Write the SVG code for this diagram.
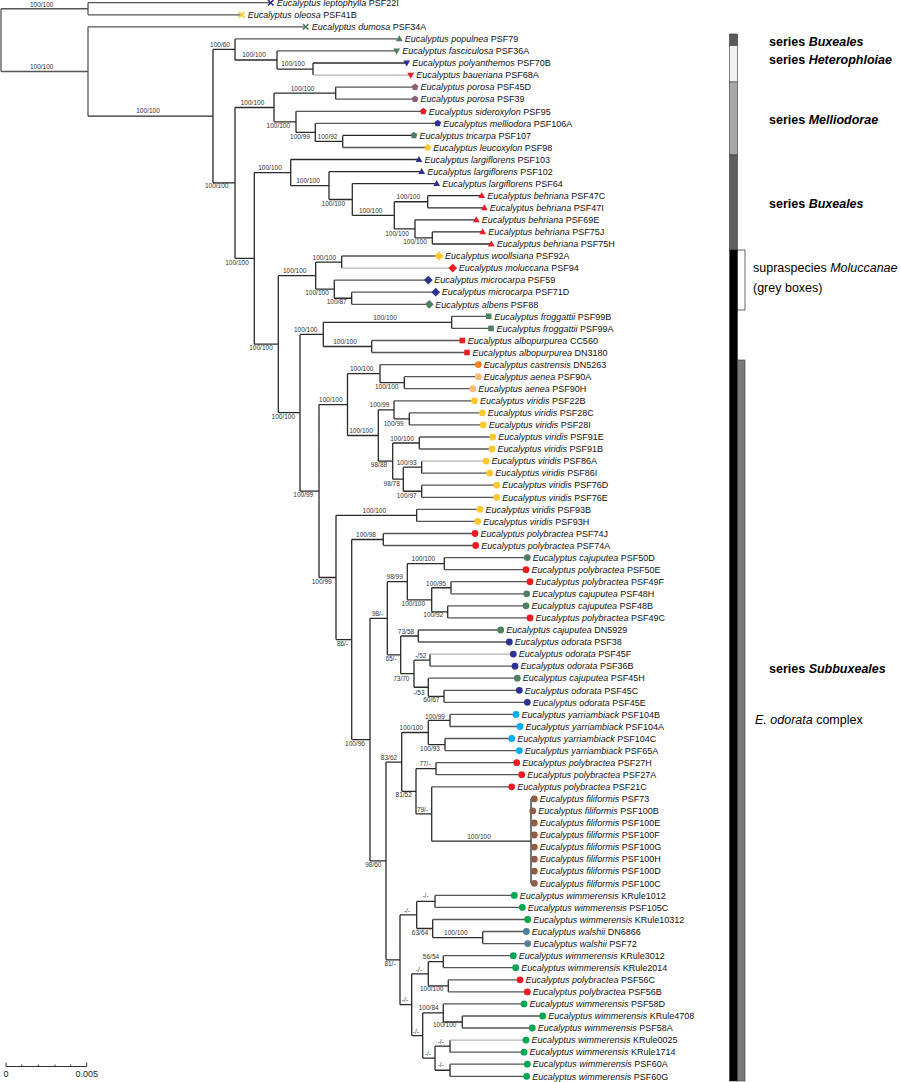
<svg xmlns="http://www.w3.org/2000/svg" width="901" height="1082" viewBox="0 0 901 1082">
<style>
.lf{font-family:"Liberation Sans",Arial,sans-serif;font-size:9px;fill:#111}
.i{font-style:italic}
.sp{font-family:"Liberation Sans",Arial,sans-serif;font-size:6.5px;fill:#333;text-anchor:middle}
.lg{font-family:"Liberation Sans",Arial,sans-serif;font-size:12.5px;fill:#000}
.b{font-weight:bold}
.t{stroke:#555}
.lt{stroke:#b4b4b4}
.sc{font-family:"Liberation Sans",Arial,sans-serif;font-size:9px;fill:#222;text-anchor:middle}
</style>
<defs>
<path id="xc" d="M-2.8,-2.8L2.8,2.8M-2.8,2.8L2.8,-2.8" fill="none" stroke-width="1.6"/>
<path id="tu" d="M0,-3.6L3.4,2.4L-3.4,2.4Z"/>
<path id="td" d="M0,3.6L3.4,-2.4L-3.4,-2.4Z"/>
<path id="pg" d="M0,-3.6L3.4,-1.1L2.1,2.9L-2.1,2.9L-3.4,-1.1Z"/>
<path id="dm" d="M0,-4.4L4.4,0L0,4.4L-4.4,0Z"/>
<rect id="sq" x="-2.8" y="-2.8" width="5.6" height="5.6"/>
<circle id="ci" r="3.4"/>
</defs>
<rect width="901" height="1082" fill="#fff"/>
<g id="connectors" fill="none" stroke="#2a2a2a" stroke-width="1.3">
<path class="t" d="M1,8.75V71.5M1,8.75H88M88,2.7V14.8M1,71.5H88M88,26.8V116.2"/>
<path class="t" d="M88,2.7H270.7M88,14.8H241.7M88,26.8H305.7"/>
<path d="M88,116.2H213M213,49.44V182.95M213,49.44H235M235,38.9V59.98"/>
<path class="t" d="M235,38.9H399.3"/>
<path d="M235,59.98H277M277,50.9V69.05M277,69.05H313M313,63V75.1"/>
<path class="t" d="M277,50.9H396.7"/>
<path d="M313,63H406.7"/>
<path class="lt" d="M313,75.1H410.7"/>
<path d="M213,182.95H235M235,107.5V258.4M235,107.5H274M274,93.15V121.85M274,93.15H335.7M335.7,87.1V99.2"/>
<path class="t" d="M335.7,87.1H415M335.7,99.2H415"/>
<path d="M274,121.85H296M296,111.3V132.4M296,132.4H315.3M315.3,123.3V141.45M315.3,141.45H342.7M342.7,135.4V147.5"/>
<path class="t" d="M296,111.3H423.3M315.3,123.3H437.7M342.7,147.5H427.7"/>
<path d="M342.7,135.4H414"/>
<path d="M235,258.4H254.3M254.3,172.6V344.2M254.3,172.6H290.7M290.7,159.5V185.6M290.7,185.6H329M329,171.6V199.5M329,199.5H352.3M352.3,183.6V215.3M352.3,215.3H394.3M394.3,201.75V228.9M394.3,201.75H427.7M427.7,195.7V207.8M394.3,228.9H415M415,219.8V237.95M415,237.95H432.3M432.3,231.9V244"/>
<path d="M290.7,159.5H419M329,171.6H421.7M352.3,183.6H436.7M427.7,195.7H481.7M427.7,207.8H484.3M415,219.8H476.3M432.3,231.9H482.7M432.3,244H491.3"/>
<path d="M254.3,344.2H278.3M278.3,275.7V412.7M278.3,275.7H315.7M315.7,262.05V289.2M315.7,262.05H341.7M341.7,256V268.1M315.7,289.2H334.3M334.3,280.1V298.25M334.3,298.25H351.7M351.7,292.2V304.3"/>
<path class="t" d="M341.7,256H439M334.3,280.1H428.3M351.7,292.2H435.7M351.7,304.3H429.3"/>
<path class="lt" d="M341.7,268.1H452.7"/>
<path d="M278.3,412.7H300M300,334.4V491.05M300,334.4H323.3M323.3,322.35V346.5M323.3,322.35H451.7M451.7,316.3V328.4M323.3,346.5H371.7M371.7,340.5V352.5"/>
<path class="t" d="M451.7,316.3H488.7M451.7,328.4H491M371.7,340.5H462.3M371.7,352.5H467"/>
<path d="M300,491.05H319M319,404.6V577.5M319,404.6H347.5M347.5,373.65V435.5M347.5,373.65H380M380,364.6V382.7M380,382.7H404.3M404.3,376.7V388.7M347.5,435.5H378.3M378.3,409.85V461.1M378.3,409.85H394M394,400.8V418.85M394,418.85H409.3M409.3,412.8V424.9M378.3,461.1H392.7M392.7,443V479.2M392.7,443H419.3M419.3,437V449M392.7,479.2H403.3M403.3,467.15V491.25M403.3,467.15H421.7M421.7,461.1V473.2M403.3,491.25H421.7M421.7,485.2V497.3"/>
<path class="t" d="M380,364.6H478.3M404.3,376.7H478.3M404.3,388.7H472.7M394,400.8H474.5M409.3,412.8H482.3M409.3,424.9H483.3M419.3,437H492.7M419.3,449H492M421.7,473.2H489.7M421.7,485.2H496.7M421.7,497.3H496.7"/>
<path class="lt" d="M421.7,461.1H486"/>
<path d="M319,577.5H336M336,515.35V639.55M336,515.35H416.7M416.7,509.3V521.4M336,639.55H351.7M351.7,539.5V739.6M351.7,539.5H383.3M383.3,533.5V545.5"/>
<path class="t" d="M416.7,509.3H480M416.7,521.4H477.7M383.3,533.5H475M383.3,545.5H475.7"/>
<path d="M351.7,739.6H370M370,618.3V860.95M370,618.3H387.3M387.3,581.7V654.85M387.3,581.7H407.3M407.3,563.65V599.8M407.3,563.65H444.3M444.3,557.6V569.7M407.3,599.8H431.7M431.7,587.75V611.85M431.7,587.75H451M451,581.7V593.8M431.7,611.85H447.7M447.7,605.8V617.9"/>
<path class="t" d="M444.3,557.6H527.3M444.3,569.7H526M451,581.7H530M451,593.8H526.7M447.7,605.8H526M447.7,617.9H530"/>
<path d="M387.3,654.85H400.7M400.7,636V673.7M400.7,636H418.3M418.3,630V642M400.7,673.7H414M414,660.15V687.25M414,660.15H430M430,654.1V666.2M414,687.25H428.3M428.3,678.2V696.3M428.3,696.3H444M444,690.3V702.3"/>
<path class="t" d="M418.3,630H500.7M418.3,642H509.3M430,666.2H515M428.3,678.2H517.3M444,690.3H519.3M444,702.3H527.3"/>
<path class="lt" d="M430,654.1H513.3"/>
<path d="M370,860.95H386M386,762.1V959.8M386,762.1H401.7M401.7,732.5V791.3M401.7,732.5H428.3M428.3,720.45V744.55M428.3,720.45H450M450,714.4V726.5M428.3,744.55H445M445,738.5V750.6"/>
<path class="t" d="M450,714.4H516M450,726.5H520M445,738.5H511.7M445,750.6H519.3"/>
<path d="M401.7,791.3H416M416,768.7V813.95M416,768.7H436M436,762.7V774.7M416,813.95H431.7M431.7,786.8V841.1M431.7,841.1H531M531,798.9V883.3"/>
<path class="t" d="M436,762.7H516.7M436,774.7H521.7M431.7,786.8H511.7M531,798.9H534.3M531,810.9H532.7M531,823H534.3M531,835H534.3M531,847.1H534.3M531,859.2H534.3M531,871.2H534.3M531,883.3H534.3"/>
<path d="M386,959.8H400M400,914.95V1004.7M400,914.95H416.7M416.7,901.4V928.5M416.7,901.4H435M435,895.4V907.4M416.7,928.5H432.7M432.7,919.5V937.55M432.7,937.55H482.7M482.7,931.5V943.6"/>
<path class="t" d="M435,895.4H514.3M435,907.4H522.3M432.7,919.5H527.7M482.7,931.5H526.3M482.7,943.6H527.7"/>
<path d="M400,1004.7H411.7M411.7,973.8V1035.6M411.7,973.8H428.3M428.3,961.7V985.85M428.3,961.7H443.3M443.3,955.7V967.7M428.3,985.85H448.3M448.3,979.8V991.9M411.7,1035.6H422.7M422.7,1012.95V1058.2M422.7,1012.95H443.3M443.3,1003.9V1022M443.3,1022H462.3M462.3,1016V1028M422.7,1058.2H435M435,1046.15V1070.25M435,1046.15H450M450,1040.1V1052.2M435,1070.25H450M450,1064.2V1076.3"/>
<path class="t" d="M443.3,955.7H513.3M443.3,967.7H515.7M448.3,979.8H520M448.3,991.9H527.3M443.3,1003.9H524M462.3,1016H542.7M462.3,1028H532.3M450,1052.2H524M450,1064.2H527.3M450,1076.3H526.7"/>
<path class="lt" d="M450,1040.1H526"/>
</g>
<g id="supports">
<text class="sp" x="41.7" y="6.6">100/100</text>
<text class="sp" x="41.7" y="68.6">100/100</text>
<text class="sp" x="148" y="113.3">100/100</text>
<text class="sp" x="220" y="46.6">100/60</text>
<text class="sp" x="254" y="57.3">100/100</text>
<text class="sp" x="293" y="65.6">100/100</text>
<text class="sp" x="216.7" y="188.3">100/100</text>
<text class="sp" x="252.5" y="104.6">100/100</text>
<text class="sp" x="302.5" y="91.3">100/100</text>
<text class="sp" x="278.3" y="128">100/100</text>
<text class="sp" x="300" y="139">100/99</text>
<text class="sp" x="327.5" y="139">100/92</text>
<text class="sp" x="270" y="170">100/100</text>
<text class="sp" x="308" y="183">100/100</text>
<text class="sp" x="333.3" y="205.6">100/100</text>
<text class="sp" x="370.7" y="212.6">100/100</text>
<text class="sp" x="408.3" y="199">100/100</text>
<text class="sp" x="397" y="235.6">100/100</text>
<text class="sp" x="415" y="244">100/100</text>
<text class="sp" x="237" y="264.6">100/100</text>
<text class="sp" x="294.7" y="273.3">100/100</text>
<text class="sp" x="324.3" y="259.6">100/100</text>
<text class="sp" x="317" y="295.3">100/100</text>
<text class="sp" x="336.7" y="304">100/87</text>
<text class="sp" x="261" y="349.6">100/100</text>
<text class="sp" x="305.7" y="331.6">100/100</text>
<text class="sp" x="385" y="320">100/100</text>
<text class="sp" x="345" y="343.6">100/100</text>
<text class="sp" x="361.7" y="371.3">100/100</text>
<text class="sp" x="386.7" y="389">100/100</text>
<text class="sp" x="330.8" y="402.3">100/100</text>
<text class="sp" x="283.3" y="419">100/100</text>
<text class="sp" x="379.5" y="407.3">100/99</text>
<text class="sp" x="393.7" y="425.6">100/99</text>
<text class="sp" x="361" y="433">100/100</text>
<text class="sp" x="402" y="440.6">100/100</text>
<text class="sp" x="379" y="467.3">98/88</text>
<text class="sp" x="406.7" y="464.6">100/93</text>
<text class="sp" x="391.7" y="485.6">98/78</text>
<text class="sp" x="406.7" y="498">100/97</text>
<text class="sp" x="303.3" y="496.6">100/99</text>
<text class="sp" x="374.3" y="513.3">100/100</text>
<text class="sp" x="366" y="537.3">100/98</text>
<text class="sp" x="423.3" y="560.6">100/100</text>
<text class="sp" x="394.7" y="579">98/99</text>
<text class="sp" x="321.7" y="584">100/99</text>
<text class="sp" x="436" y="585.6">100/95</text>
<text class="sp" x="413.3" y="605.6">100/100</text>
<text class="sp" x="377.5" y="615.6">98/-</text>
<text class="sp" x="433.3" y="617.3">100/92</text>
<text class="sp" x="406" y="634">73/58</text>
<text class="sp" x="342.5" y="645.6">86/-</text>
<text class="sp" x="420.8" y="658.3">-/52</text>
<text class="sp" x="391" y="660.6">65/-</text>
<text class="sp" x="401.3" y="680.6">73/70</text>
<text class="sp" x="419" y="695">-/53</text>
<text class="sp" x="431.3" y="702.3">60/67</text>
<text class="sp" x="435" y="719">100/99</text>
<text class="sp" x="411.3" y="730">100/100</text>
<text class="sp" x="355" y="746.3">100/96</text>
<text class="sp" x="430" y="750.6">100/93</text>
<text class="sp" x="389" y="759.6">83/62</text>
<text class="sp" x="425" y="766.3">77/-</text>
<text class="sp" x="403.7" y="797.3">81/52</text>
<text class="sp" x="422.5" y="811.6">79/-</text>
<text class="sp" x="479" y="839">100/100</text>
<text class="sp" x="373.3" y="867.3">98/60</text>
<text class="sp" x="425.5" y="898.3">-/-</text>
<text class="sp" x="407" y="913">-/-</text>
<text class="sp" x="420" y="935">63/64</text>
<text class="sp" x="455.8" y="935">100/100</text>
<text class="sp" x="431" y="959">56/54</text>
<text class="sp" x="390" y="965.6">81/-</text>
<text class="sp" x="419" y="971.6">-/-</text>
<text class="sp" x="431.7" y="991.3">100/100</text>
<text class="sp" x="405" y="1002.3">-/-</text>
<text class="sp" x="428.7" y="1009.6">100/84</text>
<text class="sp" x="444.7" y="1027.3">100/100</text>
<text class="sp" x="415.8" y="1034">-/-</text>
<text class="sp" x="440.7" y="1044">-/-</text>
<text class="sp" x="427.8" y="1055.6">-/-</text>
<text class="sp" x="440.7" y="1067.3">-/-</text>
</g>
<g id="l0"><use href="#xc" x="270.7" y="2.7" stroke="#2e3192"/><text class="lf" x="276.7" y="5.9"><tspan class="i">Eucalyptus leptophylla</tspan> PSF22I</text></g>
<g id="l1"><use href="#xc" x="241.7" y="14.8" stroke="#fdc82f"/><text class="lf" x="247.7" y="18"><tspan class="i">Eucalyptus oleosa</tspan> PSF41B</text></g>
<g id="l2"><use href="#xc" x="305.7" y="26.8" stroke="#4e7f63"/><text class="lf" x="311.7" y="30"><tspan class="i">Eucalyptus dumosa</tspan> PSF34A</text></g>
<g id="l3"><use href="#tu" x="399.3" y="38.9" fill="#4e7f63"/><text class="lf" x="404.8" y="42.1"><tspan class="i">Eucalyptus populnea</tspan> PSF79</text></g>
<g id="l4"><use href="#td" x="396.7" y="50.9" fill="#4e7f63"/><text class="lf" x="402.2" y="54.1"><tspan class="i">Eucalyptus fasciculosa</tspan> PSF36A</text></g>
<g id="l5"><use href="#td" x="406.7" y="63" fill="#2e3192"/><text class="lf" x="412.2" y="66.2"><tspan class="i">Eucalyptus polyanthemos</tspan> PSF70B</text></g>
<g id="l6"><use href="#td" x="410.7" y="75.1" fill="#ed1c24"/><text class="lf" x="416.2" y="78.3"><tspan class="i">Eucalyptus baueriana</tspan> PSF68A</text></g>
<g id="l7"><use href="#pg" x="415" y="87.1" fill="#8d5f7d"/><text class="lf" x="420.5" y="90.3"><tspan class="i">Eucalyptus porosa</tspan> PSF45D</text></g>
<g id="l8"><use href="#pg" x="415" y="99.2" fill="#8d5f7d"/><text class="lf" x="420.5" y="102.4"><tspan class="i">Eucalyptus porosa</tspan> PSF39</text></g>
<g id="l9"><use href="#pg" x="423.3" y="111.3" fill="#ed1c24"/><text class="lf" x="428.8" y="114.5"><tspan class="i">Eucalyptus sideroxylon</tspan> PSF95</text></g>
<g id="l10"><use href="#pg" x="437.7" y="123.3" fill="#2e3192"/><text class="lf" x="443.2" y="126.5"><tspan class="i">Eucalyptus melliodora</tspan> PSF106A</text></g>
<g id="l11"><use href="#pg" x="414" y="135.4" fill="#4e7f63"/><text class="lf" x="419.5" y="138.6"><tspan class="i">Eucalyptus tricarpa</tspan> PSF107</text></g>
<g id="l12"><use href="#pg" x="427.7" y="147.5" fill="#fdc82f"/><text class="lf" x="433.2" y="150.7"><tspan class="i">Eucalyptus leucoxylon</tspan> PSF98</text></g>
<g id="l13"><use href="#tu" x="419" y="159.5" fill="#2e3192"/><text class="lf" x="424.5" y="162.7"><tspan class="i">Eucalyptus largiflorens</tspan> PSF103</text></g>
<g id="l14"><use href="#tu" x="421.7" y="171.6" fill="#2e3192"/><text class="lf" x="427.2" y="174.8"><tspan class="i">Eucalyptus largiflorens</tspan> PSF102</text></g>
<g id="l15"><use href="#tu" x="436.7" y="183.6" fill="#2e3192"/><text class="lf" x="442.2" y="186.8"><tspan class="i">Eucalyptus largiflorens</tspan> PSF64</text></g>
<g id="l16"><use href="#tu" x="481.7" y="195.7" fill="#ed1c24"/><text class="lf" x="487.2" y="198.9"><tspan class="i">Eucalyptus behriana</tspan> PSF47C</text></g>
<g id="l17"><use href="#tu" x="484.3" y="207.8" fill="#ed1c24"/><text class="lf" x="489.8" y="211"><tspan class="i">Eucalyptus behriana</tspan> PSF47I</text></g>
<g id="l18"><use href="#tu" x="476.3" y="219.8" fill="#ed1c24"/><text class="lf" x="481.8" y="223"><tspan class="i">Eucalyptus behriana</tspan> PSF69E</text></g>
<g id="l19"><use href="#tu" x="482.7" y="231.9" fill="#ed1c24"/><text class="lf" x="488.2" y="235.1"><tspan class="i">Eucalyptus behriana</tspan> PSF75J</text></g>
<g id="l20"><use href="#tu" x="491.3" y="244" fill="#ed1c24"/><text class="lf" x="496.8" y="247.2"><tspan class="i">Eucalyptus behriana</tspan> PSF75H</text></g>
<g id="l21"><use href="#dm" x="439" y="256" fill="#fdc82f"/><text class="lf" x="445" y="259.2"><tspan class="i">Eucalyptus woollsiana</tspan> PSF92A</text></g>
<g id="l22"><use href="#dm" x="452.7" y="268.1" fill="#ed1c24"/><text class="lf" x="458.7" y="271.3"><tspan class="i">Eucalyptus moluccana</tspan> PSF94</text></g>
<g id="l23"><use href="#dm" x="428.3" y="280.1" fill="#2e3192"/><text class="lf" x="434.3" y="283.3"><tspan class="i">Eucalyptus microcarpa</tspan> PSF59</text></g>
<g id="l24"><use href="#dm" x="435.7" y="292.2" fill="#2e3192"/><text class="lf" x="441.7" y="295.4"><tspan class="i">Eucalyptus microcarpa</tspan> PSF71D</text></g>
<g id="l25"><use href="#dm" x="429.3" y="304.3" fill="#4e7f63"/><text class="lf" x="435.3" y="307.5"><tspan class="i">Eucalyptus albens</tspan> PSF88</text></g>
<g id="l26"><use href="#sq" x="488.7" y="316.3" fill="#4e7f63"/><text class="lf" x="494.2" y="319.5"><tspan class="i">Eucalyptus froggattii</tspan> PSF99B</text></g>
<g id="l27"><use href="#sq" x="491" y="328.4" fill="#4e7f63"/><text class="lf" x="496.5" y="331.6"><tspan class="i">Eucalyptus froggattii</tspan> PSF99A</text></g>
<g id="l28"><use href="#sq" x="462.3" y="340.5" fill="#ed1c24"/><text class="lf" x="467.8" y="343.7"><tspan class="i">Eucalyptus albopurpurea</tspan> CC560</text></g>
<g id="l29"><use href="#sq" x="467" y="352.5" fill="#ed1c24"/><text class="lf" x="472.5" y="355.7"><tspan class="i">Eucalyptus albopurpurea</tspan> DN3180</text></g>
<g id="l30"><use href="#ci" x="478.3" y="364.6" fill="#f58220"/><text class="lf" x="483.8" y="367.8"><tspan class="i">Eucalyptus castrensis</tspan> DN5263</text></g>
<g id="l31"><use href="#ci" x="478.3" y="376.7" fill="#f9b97f"/><text class="lf" x="483.8" y="379.9"><tspan class="i">Eucalyptus aenea</tspan> PSF90A</text></g>
<g id="l32"><use href="#ci" x="472.7" y="388.7" fill="#f9b97f"/><text class="lf" x="478.2" y="391.9"><tspan class="i">Eucalyptus aenea</tspan> PSF90H</text></g>
<g id="l33"><use href="#ci" x="474.5" y="400.8" fill="#fdc82f"/><text class="lf" x="480" y="404"><tspan class="i">Eucalyptus viridis</tspan> PSF22B</text></g>
<g id="l34"><use href="#ci" x="482.3" y="412.8" fill="#fdc82f"/><text class="lf" x="487.8" y="416"><tspan class="i">Eucalyptus viridis</tspan> PSF28C</text></g>
<g id="l35"><use href="#ci" x="483.3" y="424.9" fill="#fdc82f"/><text class="lf" x="488.8" y="428.1"><tspan class="i">Eucalyptus viridis</tspan> PSF28I</text></g>
<g id="l36"><use href="#ci" x="492.7" y="437" fill="#fdc82f"/><text class="lf" x="498.2" y="440.2"><tspan class="i">Eucalyptus viridis</tspan> PSF91E</text></g>
<g id="l37"><use href="#ci" x="492" y="449" fill="#fdc82f"/><text class="lf" x="497.5" y="452.2"><tspan class="i">Eucalyptus viridis</tspan> PSF91B</text></g>
<g id="l38"><use href="#ci" x="486" y="461.1" fill="#fdc82f"/><text class="lf" x="491.5" y="464.3"><tspan class="i">Eucalyptus viridis</tspan> PSF86A</text></g>
<g id="l39"><use href="#ci" x="489.7" y="473.2" fill="#fdc82f"/><text class="lf" x="495.2" y="476.4"><tspan class="i">Eucalyptus viridis</tspan> PSF86I</text></g>
<g id="l40"><use href="#ci" x="496.7" y="485.2" fill="#fdc82f"/><text class="lf" x="502.2" y="488.4"><tspan class="i">Eucalyptus viridis</tspan> PSF76D</text></g>
<g id="l41"><use href="#ci" x="496.7" y="497.3" fill="#fdc82f"/><text class="lf" x="502.2" y="500.5"><tspan class="i">Eucalyptus viridis</tspan> PSF76E</text></g>
<g id="l42"><use href="#ci" x="480" y="509.3" fill="#fdc82f"/><text class="lf" x="485.5" y="512.5"><tspan class="i">Eucalyptus viridis</tspan> PSF93B</text></g>
<g id="l43"><use href="#ci" x="477.7" y="521.4" fill="#fdc82f"/><text class="lf" x="483.2" y="524.6"><tspan class="i">Eucalyptus viridis</tspan> PSF93H</text></g>
<g id="l44"><use href="#ci" x="475" y="533.5" fill="#ed1c24"/><text class="lf" x="480.5" y="536.7"><tspan class="i">Eucalyptus polybractea</tspan> PSF74J</text></g>
<g id="l45"><use href="#ci" x="475.7" y="545.5" fill="#ed1c24"/><text class="lf" x="481.2" y="548.7"><tspan class="i">Eucalyptus polybractea</tspan> PSF74A</text></g>
<g id="l46"><use href="#ci" x="527.3" y="557.6" fill="#4e7f63"/><text class="lf" x="532.8" y="560.8"><tspan class="i">Eucalyptus cajuputea</tspan> PSF50D</text></g>
<g id="l47"><use href="#ci" x="526" y="569.7" fill="#ed1c24"/><text class="lf" x="531.5" y="572.9"><tspan class="i">Eucalyptus polybractea</tspan> PSF50E</text></g>
<g id="l48"><use href="#ci" x="530" y="581.7" fill="#ed1c24"/><text class="lf" x="535.5" y="584.9"><tspan class="i">Eucalyptus polybractea</tspan> PSF49F</text></g>
<g id="l49"><use href="#ci" x="526.7" y="593.8" fill="#4e7f63"/><text class="lf" x="532.2" y="597"><tspan class="i">Eucalyptus cajuputea</tspan> PSF48H</text></g>
<g id="l50"><use href="#ci" x="526" y="605.8" fill="#4e7f63"/><text class="lf" x="531.5" y="609"><tspan class="i">Eucalyptus cajuputea</tspan> PSF48B</text></g>
<g id="l51"><use href="#ci" x="530" y="617.9" fill="#ed1c24"/><text class="lf" x="535.5" y="621.1"><tspan class="i">Eucalyptus polybractea</tspan> PSF49C</text></g>
<g id="l52"><use href="#ci" x="500.7" y="630" fill="#4e7f63"/><text class="lf" x="506.2" y="633.2"><tspan class="i">Eucalyptus cajuputea</tspan> DN5929</text></g>
<g id="l53"><use href="#ci" x="509.3" y="642" fill="#2e3192"/><text class="lf" x="514.8" y="645.2"><tspan class="i">Eucalyptus odorata</tspan> PSF38</text></g>
<g id="l54"><use href="#ci" x="513.3" y="654.1" fill="#2e3192"/><text class="lf" x="518.8" y="657.3"><tspan class="i">Eucalyptus odorata</tspan> PSF45F</text></g>
<g id="l55"><use href="#ci" x="515" y="666.2" fill="#2e3192"/><text class="lf" x="520.5" y="669.4"><tspan class="i">Eucalyptus odorata</tspan> PSF36B</text></g>
<g id="l56"><use href="#ci" x="517.3" y="678.2" fill="#4e7f63"/><text class="lf" x="522.8" y="681.4"><tspan class="i">Eucalyptus cajuputea</tspan> PSF45H</text></g>
<g id="l57"><use href="#ci" x="519.3" y="690.3" fill="#2e3192"/><text class="lf" x="524.8" y="693.5"><tspan class="i">Eucalyptus odorata</tspan> PSF45C</text></g>
<g id="l58"><use href="#ci" x="527.3" y="702.3" fill="#2e3192"/><text class="lf" x="532.8" y="705.5"><tspan class="i">Eucalyptus odorata</tspan> PSF45E</text></g>
<g id="l59"><use href="#ci" x="516" y="714.4" fill="#00aeef"/><text class="lf" x="521.5" y="717.6"><tspan class="i">Eucalyptus yarriambiack</tspan> PSF104B</text></g>
<g id="l60"><use href="#ci" x="520" y="726.5" fill="#00aeef"/><text class="lf" x="525.5" y="729.7"><tspan class="i">Eucalyptus yarriambiack</tspan> PSF104A</text></g>
<g id="l61"><use href="#ci" x="511.7" y="738.5" fill="#00aeef"/><text class="lf" x="517.2" y="741.7"><tspan class="i">Eucalyptus yarriambiack</tspan> PSF104C</text></g>
<g id="l62"><use href="#ci" x="519.3" y="750.6" fill="#00aeef"/><text class="lf" x="524.8" y="753.8"><tspan class="i">Eucalyptus yarriambiack</tspan> PSF65A</text></g>
<g id="l63"><use href="#ci" x="516.7" y="762.7" fill="#ed1c24"/><text class="lf" x="522.2" y="765.9"><tspan class="i">Eucalyptus polybractea</tspan> PSF27H</text></g>
<g id="l64"><use href="#ci" x="521.7" y="774.7" fill="#ed1c24"/><text class="lf" x="527.2" y="777.9"><tspan class="i">Eucalyptus polybractea</tspan> PSF27A</text></g>
<g id="l65"><use href="#ci" x="511.7" y="786.8" fill="#ed1c24"/><text class="lf" x="517.2" y="790"><tspan class="i">Eucalyptus polybractea</tspan> PSF21C</text></g>
<g id="l66"><use href="#ci" x="534.3" y="798.9" fill="#8b5e4b"/><text class="lf" x="539.8" y="802.1"><tspan class="i">Eucalyptus filiformis</tspan> PSF73</text></g>
<g id="l67"><use href="#ci" x="532.7" y="810.9" fill="#8b5e4b"/><text class="lf" x="538.2" y="814.1"><tspan class="i">Eucalyptus filiformis</tspan> PSF100B</text></g>
<g id="l68"><use href="#ci" x="534.3" y="823" fill="#8b5e4b"/><text class="lf" x="539.8" y="826.2"><tspan class="i">Eucalyptus filiformis</tspan> PSF100E</text></g>
<g id="l69"><use href="#ci" x="534.3" y="835" fill="#8b5e4b"/><text class="lf" x="539.8" y="838.2"><tspan class="i">Eucalyptus filiformis</tspan> PSF100F</text></g>
<g id="l70"><use href="#ci" x="534.3" y="847.1" fill="#8b5e4b"/><text class="lf" x="539.8" y="850.3"><tspan class="i">Eucalyptus filiformis</tspan> PSF100G</text></g>
<g id="l71"><use href="#ci" x="534.3" y="859.2" fill="#8b5e4b"/><text class="lf" x="539.8" y="862.4"><tspan class="i">Eucalyptus filiformis</tspan> PSF100H</text></g>
<g id="l72"><use href="#ci" x="534.3" y="871.2" fill="#8b5e4b"/><text class="lf" x="539.8" y="874.4"><tspan class="i">Eucalyptus filiformis</tspan> PSF100D</text></g>
<g id="l73"><use href="#ci" x="534.3" y="883.3" fill="#8b5e4b"/><text class="lf" x="539.8" y="886.5"><tspan class="i">Eucalyptus filiformis</tspan> PSF100C</text></g>
<g id="l74"><use href="#ci" x="514.3" y="895.4" fill="#00a651"/><text class="lf" x="519.8" y="898.6"><tspan class="i">Eucalyptus wimmerensis</tspan> KRule1012</text></g>
<g id="l75"><use href="#ci" x="522.3" y="907.4" fill="#00a651"/><text class="lf" x="527.8" y="910.6"><tspan class="i">Eucalyptus wimmerensis</tspan> PSF105C</text></g>
<g id="l76"><use href="#ci" x="527.7" y="919.5" fill="#00a651"/><text class="lf" x="533.2" y="922.7"><tspan class="i">Eucalyptus wimmerensis</tspan> KRule10312</text></g>
<g id="l77"><use href="#ci" x="526.3" y="931.5" fill="#4f7f9a"/><text class="lf" x="531.8" y="934.7"><tspan class="i">Eucalyptus walshii</tspan> DN6866</text></g>
<g id="l78"><use href="#ci" x="527.7" y="943.6" fill="#4f7f9a"/><text class="lf" x="533.2" y="946.8"><tspan class="i">Eucalyptus walshii</tspan> PSF72</text></g>
<g id="l79"><use href="#ci" x="513.3" y="955.7" fill="#00a651"/><text class="lf" x="518.8" y="958.9"><tspan class="i">Eucalyptus wimmerensis</tspan> KRule3012</text></g>
<g id="l80"><use href="#ci" x="515.7" y="967.7" fill="#00a651"/><text class="lf" x="521.2" y="970.9"><tspan class="i">Eucalyptus wimmerensis</tspan> KRule2014</text></g>
<g id="l81"><use href="#ci" x="520" y="979.8" fill="#ed1c24"/><text class="lf" x="525.5" y="983"><tspan class="i">Eucalyptus polybractea</tspan> PSF56C</text></g>
<g id="l82"><use href="#ci" x="527.3" y="991.9" fill="#ed1c24"/><text class="lf" x="532.8" y="995.1"><tspan class="i">Eucalyptus polybractea</tspan> PSF56B</text></g>
<g id="l83"><use href="#ci" x="524" y="1003.9" fill="#00a651"/><text class="lf" x="529.5" y="1007.1"><tspan class="i">Eucalyptus wimmerensis</tspan> PSF58D</text></g>
<g id="l84"><use href="#ci" x="542.7" y="1016" fill="#00a651"/><text class="lf" x="548.2" y="1019.2"><tspan class="i">Eucalyptus wimmerensis</tspan> KRule4708</text></g>
<g id="l85"><use href="#ci" x="532.3" y="1028" fill="#00a651"/><text class="lf" x="537.8" y="1031.2"><tspan class="i">Eucalyptus wimmerensis</tspan> PSF58A</text></g>
<g id="l86"><use href="#ci" x="526" y="1040.1" fill="#00a651"/><text class="lf" x="531.5" y="1043.3"><tspan class="i">Eucalyptus wimmerensis</tspan> KRule0025</text></g>
<g id="l87"><use href="#ci" x="524" y="1052.2" fill="#00a651"/><text class="lf" x="529.5" y="1055.4"><tspan class="i">Eucalyptus wimmerensis</tspan> KRule1714</text></g>
<g id="l88"><use href="#ci" x="527.3" y="1064.2" fill="#00a651"/><text class="lf" x="532.8" y="1067.4"><tspan class="i">Eucalyptus wimmerensis</tspan> PSF60A</text></g>
<g id="l89"><use href="#ci" x="526.7" y="1076.3" fill="#00a651"/><text class="lf" x="532.2" y="1079.5"><tspan class="i">Eucalyptus wimmerensis</tspan> PSF60G</text></g>
<g id="legend-bars" stroke="#333" stroke-width="0.6">
<rect x="729.5" y="34" width="8" height="11.5" fill="#5a5a5a"/>
<rect x="729.5" y="45.5" width="8" height="36.5" fill="#f2f2f2"/>
<rect x="729.5" y="82" width="8" height="73" fill="#a8a8a8"/>
<rect x="729.5" y="155" width="8" height="95" fill="#5f5f5f"/>
<rect x="729.5" y="250" width="8" height="831" fill="#000"/>
<rect x="737.5" y="250" width="7.5" height="60" fill="#fff" stroke="#000"/>
<rect x="737.5" y="360" width="7.5" height="721" fill="#7a7a7a"/>
</g>
<g id="legend-text">
<text class="lg b" x="769" y="45.5">series <tspan class="i">Buxeales</tspan></text>
<text class="lg b" x="769" y="64">series <tspan class="i">Heterophloiae</tspan></text>
<text class="lg b" x="769" y="124">series <tspan class="i">Melliodorae</tspan></text>
<text class="lg b" x="769" y="208">series <tspan class="i">Buxeales</tspan></text>
<text class="lg" x="753" y="271.5">supraspecies <tspan class="i">Moluccanae</tspan></text>
<text class="lg" x="753" y="291.5">(grey boxes)</text>
<text class="lg b" x="769" y="672.5">series <tspan class="i">Subbuxeales</tspan></text>
<text class="lg" x="755" y="723.5"><tspan class="i">E. odorata</tspan> complex</text>
</g>
<g id="scale-bar">
<path d="M6,1066.5H86.7M6,1062.5V1066.5M86.7,1062.5V1066.5M21.7,1064.5V1066.5M38.3,1064.5V1066.5M55,1064.5V1066.5M70.7,1064.5V1066.5" fill="none" stroke="#333" stroke-width="1"/>
<text class="sc" x="6" y="1076.5">0</text>
<text class="sc" x="86.7" y="1076.5">0.005</text>
</g>
</svg>
